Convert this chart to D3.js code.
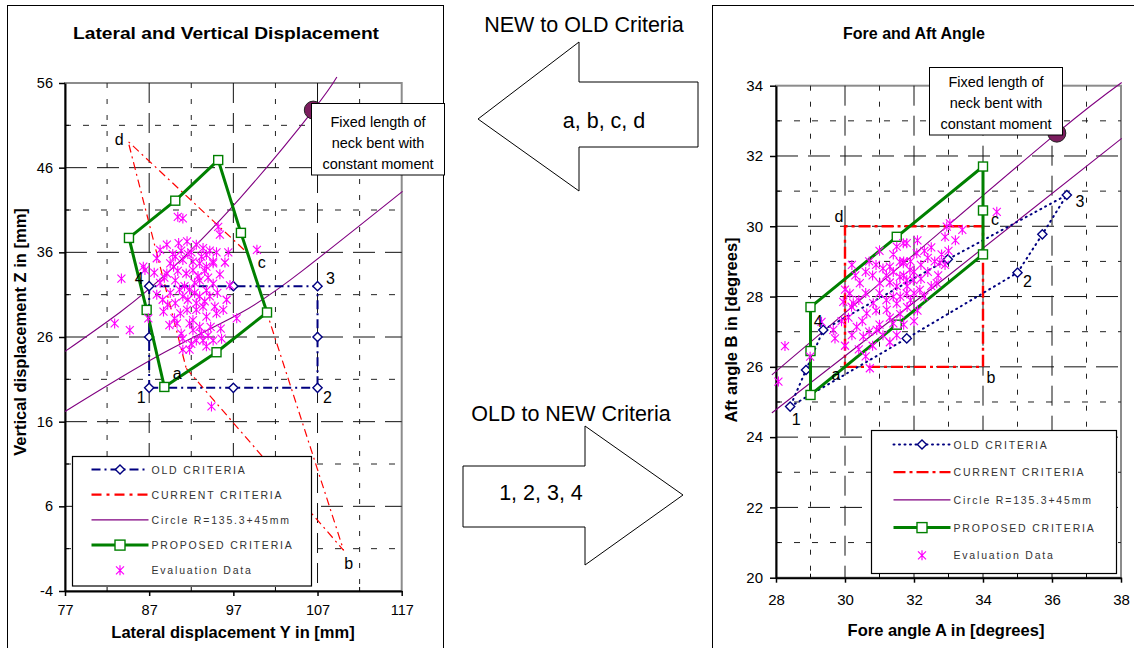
<!DOCTYPE html>
<html><head><meta charset="utf-8">
<script src="https://cdn.jsdelivr.net/npm/d3@7"></script>
<style>body{margin:0;background:#fff}</style>
</head><body><svg id="c" width="1134" height="648"></svg>
<script>
// ---------------- DATA ----------------
const leftXTicks = [77, 87, 97, 107, 117];
const leftXMinor = [82, 92, 102, 112];
const leftYTicks = [-4, 6, 16, 26, 36, 46, 56];
const leftYMinor = [1, 11, 21, 31, 41, 51];
const rightXTicks = [28, 30, 32, 34, 36, 38];
const rightXMinor = [29, 31, 33, 35, 37];
const rightYTicks = [20, 22, 24, 26, 28, 30, 32, 34];
const rightYMinor = [21, 23, 25, 27, 29, 31, 33];

const seriesNames = ["OLD CRITERIA", "CURRENT CRITERIA", "Circle R=135.3+45mm", "PROPOSED CRITERIA", "Evaluation Data"];
const oldLabels = ["1", "2", "3", "4"];
const currentLabels = ["a", "b", "c", "d"];

// Left chart: lateral Y [mm] vs vertical Z [mm]
const leftOld = [[87,20],[97,20],[107,20],[107,26],[107,32],[97,32],[87,32],[87,26],[87,20]];
const leftOldCorners = [[87,20],[107,20],[107,32],[87,32]];
const leftCurrent = [[91.4,22.3],[110.1,0.8],[98.7,35.9],[84.5,49.1],[91.4,22.3]];
const leftCircleUpper = [[77,24.3],[83.5,28.9],[89.5,33.9],[97.8,42.4],[106.5,52.8],[109.3,56.7]];
const leftCircleLower = [[77,17.2],[88.3,23.9],[97.8,28.8],[105.3,33.9],[117.1,43.2]];
const leftProposed = [[84.6,37.7],[90.1,42.1],[95.2,46.9],[97.9,38.3],[101.0,28.9],[95.0,24.2],[88.8,20.1],[86.7,29.2],[84.6,37.7]];
const leftFixed = [106.5, 52.8];
const leftEval = [[83.7,32.9],[86.5,33.9],[82.9,27.6],[84.7,26.8],[86.9,28.2],[87.9,31.0],[88.7,29.0],[88.3,32.4],[89.1,33.5],[89.9,34.3],[90.1,32.7],[90.1,30.0],[91.0,30.8],[91.8,31.6],[92.2,33.9],[93.0,32.7],[93.8,34.3],[94.6,34.7],[94.6,32.3],[94.2,30.8],[93.4,29.6],[92.6,29.2],[91.5,29.2],[90.7,28.8],[92.2,28.0],[93.8,28.4],[95.0,28.8],[95.8,29.2],[93.0,27.2],[92.2,26.8],[93.4,25.6],[94.6,25.6],[93.8,24.9],[92.6,25.6],[91.8,24.5],[91.0,24.5],[96.6,32.1],[97.4,28.2],[94.4,17.8],[93.0,30.8],[91.6,30.4],[89.5,31.2],[90.3,27.6],[91.0,40.0],[90.4,40.2],[95.2,39.0],[95.4,38.1],[99.8,36.3],[88.3,36.3],[89.1,36.9],[90.5,37.1],[91.5,37.3],[92.6,36.9],[93.4,36.5],[93.8,35.7],[87.9,35.3],[90.1,35.5],[91.0,35.1],[92.2,34.9],[93.0,34.7],[94.6,34.9],[89.5,34.7],[86.3,34.3],[89.8,35.8],[90.8,36.2],[92.0,36.0],[93.2,35.5],[94.2,36.2],[91.4,33.5],[92.8,33.2],[93.6,33.8],[90.6,31.6],[92.4,31.2],[93.8,31.5],[95.1,31.2],[95.4,33.4],[94.8,29.6],[91.8,27.6],[90.8,26.4],[92.0,25.2],[95.5,27.0],[94.3,27.2],[96.2,30.4],[89.2,29.8],[88.6,30.4],[91.2,32.0],[92.6,30.0],[93.6,30.2],[90.0,28.2],[89.4,27.4],[96.0,34.8],[95.0,36.0],[88.8,33.0],[94.0,26.2],[91.0,25.8],[95.6,25.8],[92.4,32.4],[94.0,33.0],[90.4,33.8],[91.6,35.8],[96.4,36.0],[87.6,33.6],[93.2,26.4]];

// Right chart: fore angle A vs aft angle B [degrees]
const rightOld = [[28.41,24.87],[31.79,26.81],[35.0,28.68],[35.72,29.77],[36.43,30.89],[32.98,29.06],[29.37,27.05],[28.87,25.91],[28.41,24.87]];
const rightOldCorners = [[28.41,24.87],[35.0,28.68],[36.43,30.89],[29.37,27.05]];
const rightCurrent = [[30,26],[34,26],[34,30],[30,30],[30,26]];
const rightCircleUpper = [[27.88,25.77],[32.0,29.2],[36.14,32.65],[38.02,34.09]];
const rightCircleLower = [[27.88,24.69],[33.0,28.6],[38.02,32.50]];
const rightProposed = [[29.0,25.2],[31.5,27.2],[34.0,29.2],[34.0,30.45],[34.0,31.7],[31.5,29.7],[29.0,27.7],[29.0,26.45],[29.0,25.2]];
const rightFixed = [36.14, 32.65];
const rightEval = [[28.26,26.59],[28.07,25.58],[28.99,26.29],[29.32,27.28],[29.66,27.05],[29.71,26.81],[30.14,28.09],[30.19,27.71],[30.72,25.96],[30.34,27.14],[30.53,26.86],[30.92,27.05],[31.4,27.24],[31.21,27.62],[30.63,27.52],[30.82,27.81],[31.4,28.0],[31.79,28.09],[31.98,28.47],[31.59,28.56],[31.01,28.38],[30.43,28.38],[30.24,27.81],[29.95,27.85],[31.5,29.42],[31.79,29.52],[31.59,28.99],[32.08,29.23],[31.3,28.85],[34.4,30.41],[32.95,29.99],[33.04,30.08],[31.69,29.52],[32.75,28.96],[31.69,28.95],[31.88,28.76],[32.66,28.38],[31.79,28.47],[32.17,28.19],[30.0,28.2],[30.1,27.4],[30.3,28.6],[30.4,27.9],[30.5,27.3],[30.6,28.1],[30.7,27.0],[30.8,28.6],[30.9,27.6],[31.0,28.1],[31.0,27.2],[31.1,28.8],[31.2,27.9],[31.3,28.4],[31.3,27.4],[31.4,28.7],[31.5,27.8],[31.5,28.3],[31.6,27.5],[31.6,28.0],[31.7,28.6],[31.8,27.7],[31.8,28.3],[31.9,27.9],[32.0,28.7],[32.0,28.1],[32.1,27.6],[32.2,28.9],[32.2,28.5],[32.3,28.0],[32.4,28.7],[32.4,29.1],[32.5,28.3],[32.6,29.0],[32.7,28.6],[32.8,29.2],[32.9,28.9],[33.0,29.3],[32.3,29.3],[31.9,29.0],[31.2,28.6],[30.9,28.9],[30.6,28.7],[30.2,26.9],[30.4,26.5],[30.8,26.6],[31.1,26.9],[31.3,26.7],[30.0,26.6],[31.7,27.2],[32.0,27.3],[31.4,29.2],[31.7,29.0],[32.5,29.4],[33.2,29.6],[33.4,29.9],[31.0,29.3],[30.7,29.0],[32.1,29.6],[32.9,29.7],[31.5,26.9],[30.6,26.3],[29.9,27.3],[30.2,28.9]];

// ---------------- DRAWING ----------------
const FONT = "'Liberation Sans', Arial, Helvetica, sans-serif";
const svg = d3.select("#c").style("font-family", FONT);
const NAVY = "#000080", RED = "#ff0000", PURPLE = "#800080", GREEN = "#008000", MAGENTA = "#ff00ff";
const ASTER = "M0,-5V5M-4,-4L4,4M-4,4L4,-4";
const DIAMOND = "M0,-4.6L4.6,0L0,4.6L-4.6,0Z";
const fmt = d => String(d);

// panel frames
svg.append("rect").attr("x",7.5).attr("y",5.5).attr("width",436).attr("height",720).attr("fill","none").attr("stroke","#000");
svg.append("rect").attr("x",712.5).attr("y",5.5).attr("width",440).attr("height",720).attr("fill","none").attr("stroke","#000");

function drawChart(o) {
  const g = svg.append("g");
  const x = d3.scaleLinear().domain(o.xDomain).range(o.xRange);
  const y = d3.scaleLinear().domain(o.yDomain).range(o.yRange);
  const X0 = o.xRange[0], X1 = o.xRange[1], Yb = o.yRange[0], Yt = o.yRange[1];

  // title
  const tt = g.append("text").attr("x", o.titleX).attr("y", 39).attr("text-anchor","middle")
    .attr("font-size",o.titleSize).attr("font-weight","bold").text(o.title);
  if (o.titleLen) tt.attr("textLength", o.titleLen).attr("lengthAdjust","spacingAndGlyphs");

  // plot border (gray top/right)
  g.append("rect").attr("x",X0).attr("y",Yt).attr("width",X1-X0).attr("height",Yb-Yt)
    .attr("fill","none").attr("stroke","#8c8c8c").attr("stroke-width",2);

  // grid
  const grid = g.append("g");
  o.xMinor.forEach(v => grid.append("line").attr("x1",x(v)).attr("x2",x(v)).attr("y1",Yt).attr("y2",Yb)
      .attr("stroke","#222").attr("stroke-dasharray","5,11"));
  o.yMinor.forEach(v => grid.append("line").attr("y1",y(v)).attr("y2",y(v)).attr("x1",X0).attr("x2",X1)
      .attr("stroke","#222").attr("stroke-dasharray","6,12"));
  o.xTicks.slice(1,-1).forEach(v => grid.append("line").attr("x1",x(v)).attr("x2",x(v)).attr("y1",Yt).attr("y2",Yb)
      .attr("stroke","#111").attr("stroke-dasharray","20,10"));
  o.yTicks.slice(1,-1).forEach(v => grid.append("line").attr("y1",y(v)).attr("y2",y(v)).attr("x1",X0).attr("x2",X1)
      .attr("stroke","#111").attr("stroke-dasharray","22,10"));

  // axes
  const ax = g.append("g").attr("transform",`translate(0,${Yb})`)
    .call(d3.axisBottom(x).tickValues(o.xTicks).tickSize(5).tickSizeOuter(0).tickPadding(o.xPad).tickFormat(fmt));
  const ay = g.append("g").attr("transform",`translate(${X0},0)`)
    .call(d3.axisLeft(y).tickValues(o.yTicks).tickSize(6).tickSizeOuter(0).tickPadding(o.yPad).tickFormat(fmt));
  [ax, ay].forEach(a => {
    a.select(".domain").attr("stroke","#000").attr("stroke-width",2);
    a.selectAll(".tick line").attr("stroke","#000").attr("stroke-width",1.5);
    a.selectAll("text").attr("font-size",o.tickSize).attr("font-family",FONT).attr("fill","#000");
  });
  // minor inward ticks
  o.xMinor.forEach(v => g.append("line").attr("x1",x(v)).attr("x2",x(v)).attr("y1",Yb).attr("y2",Yb-4).attr("stroke","#000"));
  o.yMinor.forEach(v => g.append("line").attr("y1",y(v)).attr("y2",y(v)).attr("x1",X0).attr("x2",X0+4).attr("stroke","#000"));

  // axis titles
  g.append("text").attr("x",o.xTitleX).attr("y",o.xTitleY).attr("text-anchor","middle")
    .attr("font-size",16.5).attr("font-weight","bold").text(o.xTitle);
  g.append("text").attr("transform",`translate(${o.yTitleX},${o.yTitleY}) rotate(-90)`).attr("text-anchor","middle")
    .attr("font-size",16.5).attr("font-weight","bold").text(o.yTitle);

  const line = d3.line().x(d => x(d[0])).y(d => y(d[1]));
  const curve = d3.line().curve(d3.curveNatural).x(d => x(d[0])).y(d => y(d[1]));

  // series
  g.append("path").attr("d", line(o.current)).attr("fill","none").attr("stroke",RED)
    .attr("stroke-width",o.curW).attr("stroke-dasharray",o.curDash);
  [o.circUpper, o.circLower].forEach(c => g.append("path").attr("d", curve(c)).attr("fill","none")
    .attr("stroke",PURPLE).attr("stroke-width",1.1));
  g.append("path").attr("d", line(o.old)).attr("fill","none").attr("stroke",NAVY)
    .attr("stroke-width",2).attr("stroke-dasharray",o.oldDash).attr("stroke-linecap",o.oldCap);
  g.selectAll(null).data(o.old.slice(0,-1)).enter().append("path").attr("d",DIAMOND)
    .attr("transform",d=>`translate(${x(d[0])},${y(d[1])})`).attr("fill","#fff").attr("stroke",NAVY).attr("stroke-width",1.4);
  g.append("path").attr("d", line(o.proposed)).attr("fill","none").attr("stroke",GREEN).attr("stroke-width",3).attr("stroke-linejoin","round");
  g.selectAll(null).data(o.proposed.slice(0,-1)).enter().append("rect")
    .attr("x",d=>x(d[0])-4.5).attr("y",d=>y(d[1])-4.5).attr("width",9).attr("height",9)
    .attr("fill","#fff").attr("stroke",GREEN).attr("stroke-width",1.4);
  g.selectAll(null).data(o.evals).enter().append("path").attr("d",ASTER)
    .attr("transform",d=>`translate(${x(d[0])},${y(d[1])})`).attr("fill","none").attr("stroke",MAGENTA).attr("stroke-width",1.1);

  // corner labels
  const lab = (pts, names, offs) => pts.forEach((p,i) => g.append("text")
      .attr("x", x(p[0]) + offs[i][0]).attr("y", y(p[1]) + offs[i][1])
      .attr("text-anchor","middle").attr("dominant-baseline","central").attr("font-size",16).text(names[i]));
  lab(o.oldCorners, oldLabels, o.oldOffs);
  lab(o.current.slice(0,4), currentLabels, o.curOffs);

  // fixed-length marker + note
  g.append("circle").attr("cx",x(o.fixed[0])).attr("cy",y(o.fixed[1])).attr("r",9)
    .attr("fill","#7b1d5e").attr("stroke","#222").attr("stroke-width",1);
  g.append("rect").attr("x",o.note[0]).attr("y",o.note[1]).attr("width",o.note[2]).attr("height",o.note[3])
    .attr("fill","#fff").attr("stroke","#000");
  ["Fixed length of","neck bent with","constant moment"].forEach((t,i) =>
    g.append("text").attr("x",o.note[0]+o.note[2]/2).attr("y",o.note[1]+o.noteFirst+i*21)
      .attr("text-anchor","middle").attr("dominant-baseline","central").attr("font-size",14.5).text(t));

  // legend
  const L = o.legend; // [x,y,w,h]
  const lg = g.append("g");
  lg.append("rect").attr("x",L[0]).attr("y",L[1]).attr("width",L[2]).attr("height",L[3])
    .attr("fill","#fff").attr("stroke","#000").attr("stroke-width",1.2);
  const sx0 = L[0] + o.legSample[0], sx1 = L[0] + o.legSample[1], mx = (sx0+sx1)/2;
  seriesNames.forEach((nm,i) => {
    const yy = L[1] + o.legRow0 + i*o.legStep;
    if (i === 0) {
      lg.append("line").attr("x1",sx0).attr("x2",sx1).attr("y1",yy).attr("y2",yy).attr("stroke",NAVY).attr("stroke-width",2).attr("stroke-dasharray",o.oldDash).attr("stroke-linecap",o.oldCap);
      lg.append("path").attr("d",DIAMOND).attr("transform",`translate(${mx},${yy})`).attr("fill","#fff").attr("stroke",NAVY).attr("stroke-width",1.4);
    } else if (i === 1) {
      lg.append("line").attr("x1",sx0).attr("x2",sx1).attr("y1",yy).attr("y2",yy).attr("stroke",RED).attr("stroke-width",2.2).attr("stroke-dasharray",o.legCurDash);
    } else if (i === 2) {
      lg.append("line").attr("x1",sx0).attr("x2",sx1).attr("y1",yy).attr("y2",yy).attr("stroke",PURPLE).attr("stroke-width",1.2);
    } else if (i === 3) {
      lg.append("line").attr("x1",sx0).attr("x2",sx1).attr("y1",yy).attr("y2",yy).attr("stroke",GREEN).attr("stroke-width",3);
      lg.append("rect").attr("x",mx-5).attr("y",yy-5).attr("width",10).attr("height",10).attr("fill","#fff").attr("stroke",GREEN).attr("stroke-width",1.4);
    } else {
      lg.append("path").attr("d",ASTER).attr("transform",`translate(${mx},${yy})`).attr("fill","none").attr("stroke",MAGENTA).attr("stroke-width",1.2);
    }
    lg.append("text").attr("x",sx1+3).attr("y",yy).attr("dominant-baseline","central")
      .attr("font-size",10.5).attr("letter-spacing",1.8).attr("fill","#333").text(nm);
  });
}

drawChart({
  title:"Lateral and Vertical Displacement", titleX:226, titleSize:16, titleLen:306,
  xDomain:[77,117], xRange:[65,401.7], yDomain:[-4,56], yRange:[591,83],
  xTicks:leftXTicks, xMinor:leftXMinor, yTicks:leftYTicks, yMinor:leftYMinor,
  xPad:9, yPad:6, tickSize:14.5,
  xTitle:"Lateral displacement Y in [mm]", xTitleX:233, xTitleY:638,
  yTitle:"Vertical displacement Z in [mm]", yTitleX:26, yTitleY:332,
  old:leftOld, oldCorners:leftOldCorners, oldDash:"9,4,2,4", oldCap:"butt",
  current:leftCurrent, curW:1.2, curDash:"8,4,2,4", legCurDash:"10,5,3,5",
  circUpper:leftCircleUpper, circLower:leftCircleLower,
  proposed:leftProposed, evals:leftEval, fixed:leftFixed,
  oldOffs:[[-8,10],[10,10],[13,-8],[-10,-8]],
  curOffs:[[-9,5],[5,13],[14,9],[-9,-2]],
  note:[311.5,103.5,133,71.5], noteFirst:18,
  legend:[72.5,456.5,239,129.5], legSample:[19,76], legRow0:13, legStep:25.2
});

drawChart({
  title:"Fore and Aft Angle", titleX:914, titleSize:16, titleLen:null,
  xDomain:[28,38], xRange:[776,1121], yDomain:[20,34], yRange:[577.7,85.7],
  xTicks:rightXTicks, xMinor:rightXMinor, yTicks:rightYTicks, yMinor:rightYMinor,
  xPad:12, yPad:7, tickSize:15,
  xTitle:"Fore angle A in [degrees]", xTitleX:946, xTitleY:636,
  yTitle:"Aft angle B in [degrees]", yTitleX:737, yTitleY:330,
  old:rightOld, oldCorners:rightOldCorners, oldDash:"1,4.5", oldCap:"round",
  current:rightCurrent, curW:2.4, curDash:"12,4,3,4", legCurDash:"12,4,3,4",
  circUpper:rightCircleUpper, circLower:rightCircleLower,
  proposed:rightProposed, evals:rightEval, fixed:rightFixed,
  oldOffs:[[6,13],[10,9],[13,7],[-5,-8]],
  curOffs:[[-9,8],[8,11],[12,-7],[-6,-10]],
  note:[929.5,67.5,133,67.5], noteFirst:14,
  legend:[871.5,430.5,245,143], legSample:[22,79], legRow0:14, legStep:27.7
});

// middle arrows
const mid = svg.append("g");
mid.append("text").attr("x",584).attr("y",25).attr("text-anchor","middle").attr("dominant-baseline","central").attr("font-size",21.5).text("NEW to OLD Criteria");
mid.append("polygon").attr("points","478,119 579,42 579,82 698,82 698,147 579,147 579,191")
  .attr("fill","#fff").attr("stroke","#000").attr("stroke-width",1);
mid.append("text").attr("x",604).attr("y",121).attr("text-anchor","middle").attr("dominant-baseline","central").attr("font-size",21.5).text("a, b, c, d");
mid.append("text").attr("x",571).attr("y",414).attr("text-anchor","middle").attr("dominant-baseline","central").attr("font-size",21.5).text("OLD to NEW Criteria");
mid.append("polygon").attr("points","463,466 585,466 585,426 683,495 585,565 585,527 463,527")
  .attr("fill","#fff").attr("stroke","#000").attr("stroke-width",1);
mid.append("text").attr("x",541).attr("y",493).attr("text-anchor","middle").attr("dominant-baseline","central").attr("font-size",21.5).text("1, 2, 3, 4");
</script>
</body></html>
